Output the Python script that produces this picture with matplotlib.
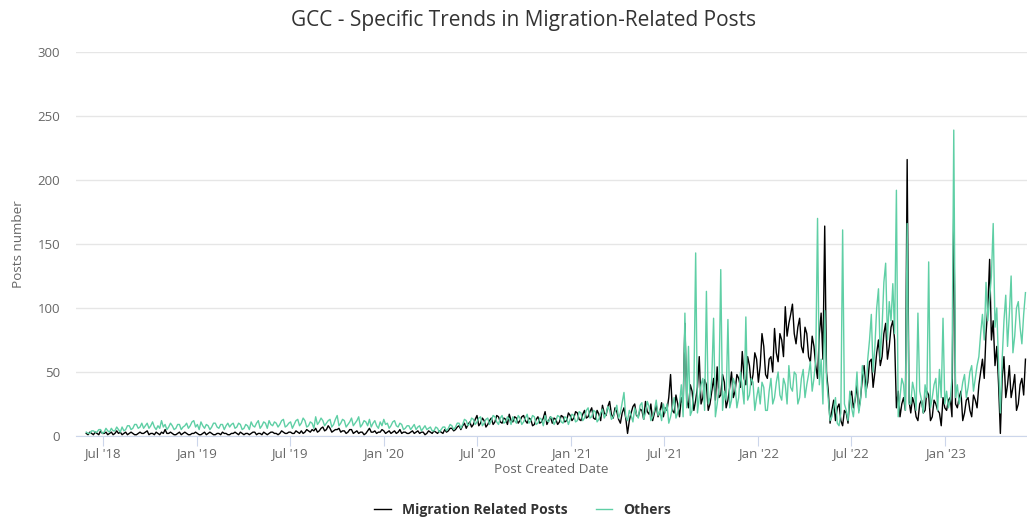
import pandas as pd
import numpy as np
import matplotlib
matplotlib.use("Agg")
import matplotlib.pyplot as plt
import matplotlib.dates as mdates

# readings twice a week (every 3.5 days), starting 30 May 2018
start_date = "2018-05-30"

migration = [
    2, 1, 3, 2, 1, 3, 2, 1, 4, 2, 2, 3, 1, 2, 3, 1, 2, 4, 2, 3,
    1, 2, 3, 1, 2, 3, 2, 1, 1, 2, 3, 2, 2, 3, 4, 1, 2, 2, 1, 3,
    2, 1, 3, 2, 5, 2, 2, 3, 2, 1, 1, 2, 3, 1, 2, 3, 2, 1, 1, 2,
    2, 3, 2, 1, 1, 2, 3, 1, 2, 3, 2, 1, 1, 2, 2, 1, 3, 2, 2, 1,
    1, 2, 2, 3, 2, 1, 3, 2, 1, 2, 2, 1, 2, 3, 3, 1, 2, 2, 1, 3,
    2, 1, 2, 3, 3, 2, 2, 1, 2, 4, 3, 2, 2, 3, 3, 2, 2, 4, 3, 2,
    4, 2, 3, 5, 4, 3, 5, 4, 6, 3, 4, 6, 7, 4, 5, 8, 6, 3, 4, 5,
    5, 6, 3, 4, 4, 2, 3, 5, 5, 2, 3, 4, 2, 3, 3, 1, 2, 4, 6, 3,
    3, 4, 2, 3, 3, 5, 4, 2, 3, 4, 2, 3, 4, 2, 3, 5, 2, 3, 3, 2,
    2, 3, 4, 2, 3, 4, 2, 3, 3, 1, 2, 4, 3, 2, 4, 3, 2, 4, 3, 2,
    5, 3, 4, 6, 6, 4, 5, 7, 8, 5, 8, 10, 6, 9, 11, 7, 9, 13, 16, 8,
    10, 14, 12, 7, 9, 12, 14, 9, 11, 16, 15, 11, 10, 14, 13, 9, 17, 12, 11, 15,
    14, 10, 12, 15, 16, 12, 10, 14, 13, 8, 9, 13, 15, 10, 11, 14, 19, 9, 12, 15,
    10, 14, 13, 9, 11, 16, 15, 11, 12, 18, 16, 12, 14, 19, 18, 13, 12, 17, 20, 14,
    15, 19, 22, 14, 13, 20, 17, 12, 24, 18, 16, 23, 27, 17, 14, 22, 19, 13, 10, 18,
    22, 14, 2, 12, 18, 23, 25, 16, 15, 21, 20, 13, 27, 19, 17, 25, 12, 18, 24, 15,
    19, 26, 15, 22, 20, 30, 48, 20, 18, 32, 25, 15, 30, 24, 88, 28, 22, 40, 35, 20,
    28, 38, 62, 25, 30, 44, 40, 20, 25, 35, 45, 28, 54, 30, 32, 48, 42, 22, 28, 38,
    50, 30, 35, 48, 45, 38, 66, 45, 40, 62, 55, 40, 48, 65, 60, 42, 55, 80, 70, 48,
    45, 60, 62, 50, 84, 65, 58, 80, 75, 62, 101, 78, 88, 95, 103, 80, 72, 85, 92, 70,
    65, 85, 80, 62, 58, 78, 70, 55, 45, 80, 96, 60, 164, 50, 35, 10, 20, 28, 12, 22,
    25, 12, 8, 20, 18, 10, 30, 35, 22, 28, 40, 20, 30, 45, 55, 35, 42, 58, 60, 38,
    50, 65, 75, 55, 62, 80, 88, 60, 70, 85, 90, 75, 22, 35, 15, 25, 30, 20, 216, 28,
    18, 30, 25, 15, 12, 25, 28, 18, 20, 35, 32, 12, 15, 28, 25, 20, 18, 8, 30, 22,
    20, 28, 30, 15, 178, 25, 22, 30, 35, 12, 18, 28, 30, 20, 15, 32, 28, 22, 40, 50,
    60, 45, 80, 100, 138, 75, 90, 55, 70, 40, 2, 45, 62, 30, 40, 55, 30, 38, 48, 20,
    25, 40, 45, 32, 60,
]

others = [
    3, 2, 2, 4, 4, 3, 3, 5, 5, 2, 3, 6, 4, 3, 6, 4, 4, 7, 5, 3,
    7, 4, 5, 8, 8, 5, 6, 9, 9, 6, 7, 10, 6, 8, 10, 6, 8, 11, 7, 5,
    8, 6, 12, 7, 9, 5, 7, 10, 8, 5, 6, 9, 9, 5, 7, 8, 10, 6, 8, 11,
    12, 7, 9, 5, 11, 8, 6, 9, 8, 5, 7, 10, 10, 7, 6, 9, 9, 5, 8, 10,
    7, 9, 10, 6, 7, 10, 9, 5, 6, 9, 8, 5, 11, 8, 7, 10, 12, 6, 8, 11,
    10, 6, 12, 9, 8, 11, 10, 7, 9, 12, 13, 7, 8, 10, 11, 6, 9, 12, 13, 8,
    10, 14, 12, 7, 8, 11, 10, 6, 15, 9, 11, 14, 12, 8, 10, 12, 13, 7, 9, 13,
    16, 8, 10, 13, 12, 7, 9, 11, 14, 8, 10, 12, 15, 7, 9, 12, 11, 8, 13, 7,
    10, 12, 8, 6, 11, 8, 13, 9, 10, 6, 8, 11, 12, 8, 7, 10, 9, 5, 6, 8,
    8, 5, 7, 9, 5, 7, 8, 4, 6, 8, 5, 6, 7, 4, 4, 7, 6, 3, 5, 7,
    7, 4, 6, 9, 8, 5, 7, 10, 10, 6, 9, 13, 12, 8, 10, 14, 13, 9, 11, 14,
    15, 8, 10, 13, 14, 9, 12, 16, 15, 11, 9, 14, 16, 10, 11, 15, 13, 9, 15, 12,
    10, 16, 14, 9, 11, 14, 17, 10, 12, 16, 15, 9, 10, 14, 13, 8, 16, 12, 11, 15,
    14, 9, 12, 16, 15, 11, 10, 15, 14, 9, 13, 17, 16, 11, 12, 19, 18, 12, 14, 20,
    22, 14, 15, 20, 19, 11, 13, 18, 21, 14, 17, 23, 20, 13, 15, 19, 24, 14, 18, 26,
    34, 15, 12, 20, 16, 11, 22, 17, 14, 24, 26, 13, 18, 27, 23, 12, 15, 20, 28, 16,
    20, 12, 25, 18, 25, 10, 15, 22, 30, 14, 18, 25, 40, 15, 96, 22, 70, 16, 20, 35,
    143, 18, 30, 40, 45, 20, 113, 25, 30, 45, 92, 15, 25, 38, 130, 20, 35, 28, 91, 22,
    28, 45, 40, 22, 30, 50, 38, 25, 93, 28, 32, 45, 42, 20, 30, 38, 25, 42, 38, 20,
    20, 35, 45, 25, 30, 42, 50, 32, 28, 45, 40, 25, 55, 38, 35, 50, 48, 25, 30, 45,
    52, 30, 40, 48, 58, 35, 45, 60, 170, 40, 60, 25, 98, 45, 28, 12, 15, 22, 30, 10,
    8, 18, 161, 25, 20, 12, 35, 22, 15, 30, 50, 18, 28, 55, 45, 30, 60, 75, 95, 50,
    70, 100, 115, 60, 85, 120, 135, 75, 105, 90, 119, 80, 192, 15, 30, 45, 40, 20, 166, 25,
    25, 42, 35, 20, 96, 35, 28, 18, 40, 30, 136, 22, 30, 40, 45, 20, 52, 30, 92, 25,
    35, 22, 28, 45, 239, 30, 40, 25, 32, 42, 48, 30, 38, 50, 55, 35, 45, 55, 62, 80,
    95, 75, 120, 90, 108, 125, 166, 85, 100, 55, 18, 60, 90, 110, 70, 95, 125, 65, 78, 100,
    105, 85, 72, 95, 112,
]

dates = pd.date_range(start_date, periods=len(migration), freq="84h")

plt.rcParams["font.family"] = ["Open Sans", "DejaVu Sans"]

fig = plt.figure(figsize=(10.27, 5.17), dpi=100)
ax = fig.add_axes([0.074, 0.1567, 0.926, 0.7427])

ax.plot(dates, migration, color="#000000", lw=1.0, label="Migration Related Posts", zorder=3)
ax.plot(dates, others, color="#5fcfa5", lw=1.0, label="Others", zorder=4)

ax.set_ylim(0, 300)
ax.set_yticks([0, 50, 100, 150, 200, 250, 300])
ax.set_xlim(pd.Timestamp("2018-05-10"), pd.Timestamp("2023-06-10"))
ax.xaxis.set_major_locator(mdates.MonthLocator(bymonth=[1, 7]))
ax.xaxis.set_major_formatter(mdates.DateFormatter("%b '%y"))

ax.grid(axis="y", color="#e6e6e6", lw=1)
ax.set_axisbelow(True)
for s in ["top", "right", "left"]:
    ax.spines[s].set_visible(False)
ax.spines["bottom"].set_color("#ccd6eb")
ax.tick_params(axis="x", colors="#666666", labelsize=9.5, length=7, color="#ccd6eb", pad=1)
ax.tick_params(axis="y", colors="#666666", labelsize=9.5, length=0, pad=11.5)

ax.set_xlabel("Post Created Date", color="#666666", fontsize=9.7, labelpad=2)
ax.set_ylabel("Posts number", color="#666666", fontsize=9.7, labelpad=8.5)

fig.suptitle("GCC - Specific Trends in Migration-Related Posts", x=0.51, y=0.981,
             fontsize=15, color="#333333")

leg = fig.legend(loc="lower center", bbox_to_anchor=(0.509, -0.024), ncol=2, frameon=False,
                 handlelength=1.2, columnspacing=2.0, prop={"weight": "bold", "size": 10})
for t in leg.get_texts():
    t.set_color("#333333")

fig.savefig("out.png", dpi=100)
